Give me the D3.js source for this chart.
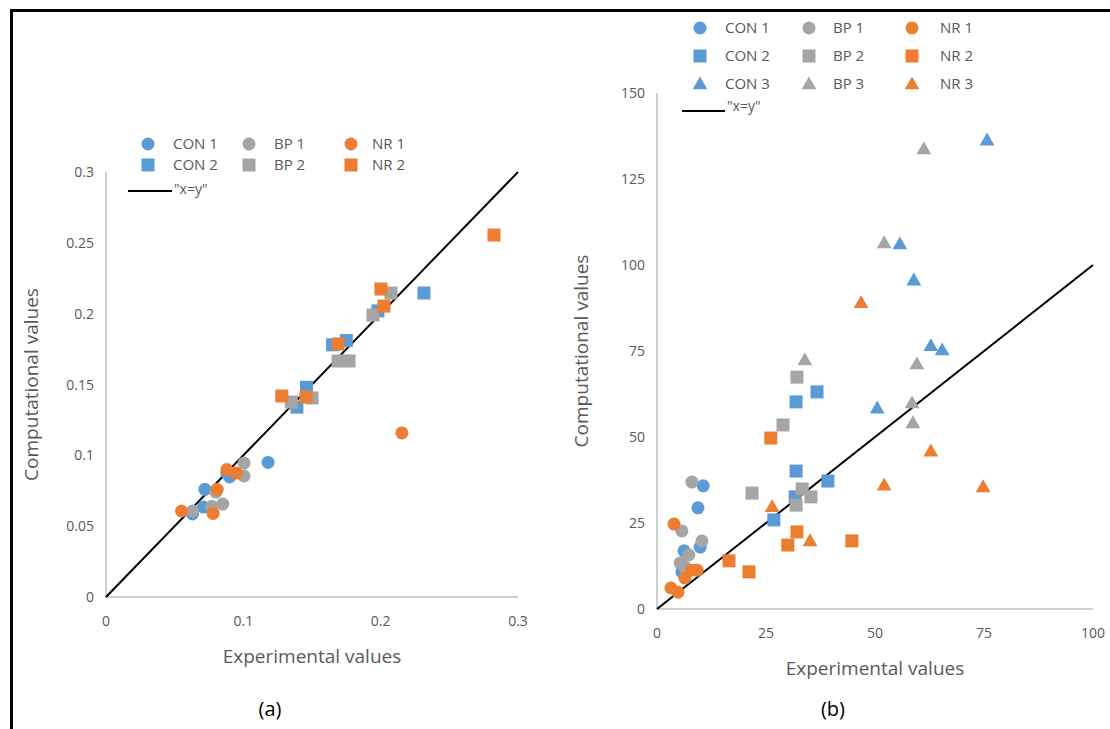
<!DOCTYPE html>
<html lang="en">
<head>
<meta charset="utf-8" />
<title>Experimental vs computational</title>
<script src="https://d3js.org/d3.v7.min.js"></script>
<style>
  body { margin: 0; background: #fff; }
  text { font-family: "Open Sans", "Liberation Sans", sans-serif; fill: #595959; }
</style>
</head>
<body>
<div id="chart"></div>
<script>
// colours per group
var groups = ["CON", "BP", "NR"];
var colors = { CON: "#5B9BD5", BP: "#A5A5A5", NR: "#ED7D31" };

// ---- panel (a) data, [experimental, computational] ----
var aCon1 = [[0.118, 0.095], [0.072, 0.076], [0.063, 0.0586], [0.071, 0.0635], [0.088, 0.0875], [0.090, 0.0847]];
var aBp1 = [[0.1005, 0.0946], [0.1005, 0.0854], [0.080, 0.074], [0.077, 0.064], [0.085, 0.0656], [0.063, 0.0607]];
var aNr1 = [[0.055, 0.0607], [0.088, 0.090], [0.095, 0.0875], [0.081, 0.076], [0.078, 0.059], [0.2155, 0.1158]];
var aCon2 = [[0.175, 0.181], [0.165, 0.178], [0.146, 0.148], [0.139, 0.134], [0.198, 0.202], [0.2315, 0.2146]];
var aBp2 = [[0.169, 0.1666], [0.177, 0.1666], [0.135, 0.1376], [0.150, 0.1405], [0.1944, 0.199], [0.2075, 0.2146]];
var aNr2 = [[0.169, 0.1786], [0.128, 0.1419], [0.1456, 0.1412], [0.2002, 0.2174], [0.2024, 0.2054], [0.2825, 0.2555]];
var aXTicks = [0, 0.1, 0.2, 0.3];
var aYTicks = [0, 0.05, 0.1, 0.15, 0.2, 0.25, 0.3];

// ---- panel (b) data ----
var bCon1 = [[10.6, 35.8], [9.4, 29.4], [9.9, 18.0], [6.2, 16.9], [5.7, 10.8]];
var bBp1 = [[8.0, 36.9], [5.7, 22.7], [10.3, 19.8], [7.3, 15.7], [5.3, 13.4], [6.4, 12.2]];
var bNr1 = [[3.9, 24.7], [8.0, 11.3], [9.2, 11.3], [6.4, 9.0], [3.2, 6.1], [4.8, 4.9]];
var bCon2 = [[36.7, 63.1], [31.9, 60.2], [31.9, 40.1], [39.2, 37.2], [31.7, 32.6], [26.8, 25.9]];
var bBp2 = [[32.1, 67.4], [28.9, 53.5], [21.8, 33.7], [33.3, 34.9], [35.3, 32.6], [31.9, 30.2]];
var bNr2 = [[26.1, 49.7], [32.1, 22.4], [44.7, 19.8], [30.0, 18.6], [16.5, 14.0], [21.1, 10.8]];
var bCon3 = [[75.7, 136.3], [55.7, 106.1], [58.9, 95.6], [62.8, 76.5], [65.4, 75.3], [50.5, 58.4]];
var bBp3 = [[61.2, 133.7], [52.1, 106.4], [33.9, 72.4], [59.6, 71.2], [58.5, 59.9], [58.7, 54.1]];
var bNr3 = [[46.8, 89.0], [62.8, 45.9], [52.1, 36.0], [74.8, 35.5], [26.4, 29.7], [35.1, 19.8]];
var bXTicks = [0, 25, 50, 75, 100];
var bYTicks = [0, 25, 50, 75, 100, 125, 150];

var W = 1110, H = 729;
var svg = d3.select("#chart").append("svg").attr("width", W).attr("height", H);

// outer frame
svg.append("path")
  .attr("d", "M11.5," + (H + 5) + "V10.5H" + (W + 5))
  .attr("fill", "none").attr("stroke", "#000").attr("stroke-width", 3);

function marker(g, shape, color, cx, cy) {
  if (shape === "circle") {
    g.append("circle").attr("cx", cx).attr("cy", cy).attr("r", 6.5).attr("fill", color);
  } else if (shape === "square") {
    g.append("rect").attr("x", cx - 6.5).attr("y", cy - 6.5).attr("width", 13).attr("height", 13).attr("fill", color);
  } else {
    g.append("path").attr("d", d3.symbol(d3.symbolTriangle, 95)()).attr("transform", "translate(" + cx + "," + (cy + 1) + ")").attr("fill", color);
  }
}

function panel(cfg) {
  var x = d3.scaleLinear().domain(cfg.xDomain).range([cfg.x0, cfg.x1]);
  var y = d3.scaleLinear().domain(cfg.yDomain).range([cfg.y0, cfg.y1]);
  var g = svg.append("g");

  // axes lines
  g.append("line").attr("x1", cfg.x0).attr("x2", cfg.x1).attr("y1", cfg.y0).attr("y2", cfg.y0).attr("stroke", "#BFBFBF").attr("stroke-width", 1.5);
  g.append("line").attr("x1", cfg.x0).attr("x2", cfg.x0).attr("y1", cfg.y0).attr("y2", cfg.y1).attr("stroke", "#BFBFBF").attr("stroke-width", 1.5);

  g.selectAll(".xt").data(cfg.xTicks).enter().append("text")
    .attr("x", function (d) { return x(d); }).attr("y", cfg.y0 + 29)
    .attr("text-anchor", "middle").style("font-size", "14px").text(function (d) { return d; });
  g.selectAll(".yt").data(cfg.yTicks).enter().append("text")
    .attr("x", cfg.x0 - 12).attr("y", function (d) { return y(d) + 5; })
    .attr("text-anchor", "end").style("font-size", "14px").text(function (d) { return d; });

  // axis titles
  g.append("text").attr("x", (cfg.x0 + cfg.x1) / 2).attr("y", cfg.y0 + 66)
    .attr("text-anchor", "middle").style("font-size", "19px").text("Experimental values");
  g.append("text").attr("transform", "translate(" + cfg.ytX + "," + ((cfg.y0 + cfg.y1) / 2) + ")rotate(-90)")
    .attr("text-anchor", "middle").style("font-size", "19px").text("Computational values");
  g.append("text").attr("x", cfg.capX).attr("y", 716)
    .attr("text-anchor", "middle").style("font-size", "20px").style("fill", "#000").text(cfg.caption);

  // x = y line
  var lineEnd = Math.min(cfg.xDomain[1], cfg.yDomain[1]);
  g.append("line").attr("x1", x(0)).attr("y1", y(0)).attr("x2", x(lineEnd)).attr("y2", y(lineEnd))
    .attr("stroke", "#000").attr("stroke-width", 2);

  // series
  cfg.series.forEach(function (s) {
    s.data.forEach(function (d) {
      marker(g, s.shape, colors[s.group], x(d[0]), y(d[1]));
    });
  });

  // legend
  var lg = svg.append("g");
  cfg.series.forEach(function (s) {
    var col = groups.indexOf(s.group), row = s.row;
    var mx = cfg.legX[col], my = cfg.legY0 + row * cfg.legDy;
    marker(lg, s.shape, colors[s.group], mx, my);
    lg.append("text").attr("x", mx + cfg.legTx[col]).attr("y", my + 5).style("font-size", "15px").text(s.name);
  });
  var ly = cfg.legLineY;
  lg.append("line").attr("x1", cfg.legLine[0]).attr("x2", cfg.legLine[1]).attr("y1", ly).attr("y2", ly).attr("stroke", "#000").attr("stroke-width", 2);
  lg.append("text").attr("x", cfg.legLine[1] + 2).attr("y", ly + cfg.legTextDy).style("font-size", "14px").text('"x=y"');
}

panel({
  xDomain: [0, 0.3], yDomain: [0, 0.3], x0: 106, x1: 518, y0: 597, y1: 172,
  xTicks: aXTicks, yTicks: aYTicks, ytX: 38, capX: 270, caption: "(a)",
  series: [
    { name: "CON 1", group: "CON", shape: "circle", row: 0, data: aCon1 },
    { name: "BP 1", group: "BP", shape: "circle", row: 0, data: aBp1 },
    { name: "NR 1", group: "NR", shape: "circle", row: 0, data: aNr1 },
    { name: "CON 2", group: "CON", shape: "square", row: 1, data: aCon2 },
    { name: "BP 2", group: "BP", shape: "square", row: 1, data: aBp2 },
    { name: "NR 2", group: "NR", shape: "square", row: 1, data: aNr2 }
  ],
  legX: [148, 249, 351], legTx: [25, 25, 21], legY0: 144, legDy: 21,
  legLineY: 191, legTextDy: 3, legLine: [128, 172]
});

panel({
  xDomain: [0, 100], yDomain: [0, 150], x0: 657, x1: 1093, y0: 609, y1: 93,
  xTicks: bXTicks, yTicks: bYTicks, ytX: 588, capX: 833, caption: "(b)",
  series: [
    { name: "CON 1", group: "CON", shape: "circle", row: 0, data: bCon1 },
    { name: "BP 1", group: "BP", shape: "circle", row: 0, data: bBp1 },
    { name: "NR 1", group: "NR", shape: "circle", row: 0, data: bNr1 },
    { name: "CON 2", group: "CON", shape: "square", row: 1, data: bCon2 },
    { name: "BP 2", group: "BP", shape: "square", row: 1, data: bBp2 },
    { name: "NR 2", group: "NR", shape: "square", row: 1, data: bNr2 },
    { name: "CON 3", group: "CON", shape: "triangle", row: 2, data: bCon3 },
    { name: "BP 3", group: "BP", shape: "triangle", row: 2, data: bBp3 },
    { name: "NR 3", group: "NR", shape: "triangle", row: 2, data: bNr3 }
  ],
  legX: [700, 809, 912], legTx: [25, 24, 28], legY0: 28, legDy: 28,
  legLineY: 111, legTextDy: 0, legLine: [682, 725]
});
</script>
</body>
</html>
